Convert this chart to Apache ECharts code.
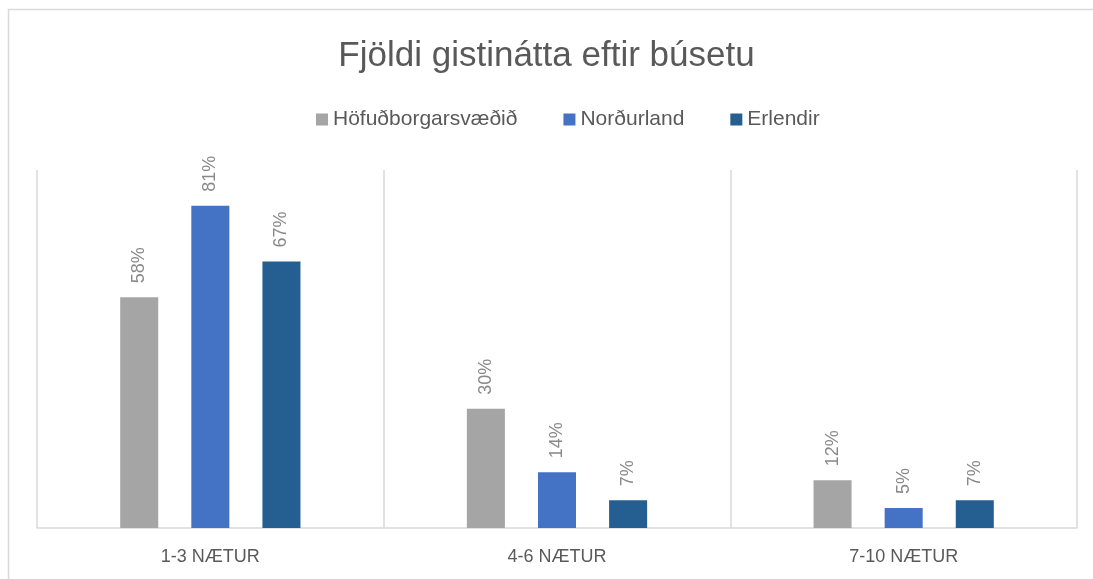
<!DOCTYPE html>
<html>
<head>
<meta charset="utf-8">
<script src="https://cdn.jsdelivr.net/npm/echarts@6/dist/echarts.min.js"></script>
<style>
  html, body { margin: 0; padding: 0; background: #fff; }
  #chart { width: 1093px; height: 579px; }
</style>
</head>
<body>
<div id="chart"></div>
<script>
// flokkar og gildi (%)
var categories = ['1-3 NÆTUR', '4-6 NÆTUR', '7-10 NÆTUR']
var seriesNames = ['Höfuðborgarsvæðið', 'Norðurland', 'Erlendir']
var hofudborg = [58, 30, 12]
var nordurland = [81, 14, 5]
var erlendir = [67, 7, 7]
var colors = ['#A5A5A5', '#4472C4', '#255E91']

var font = 'Liberation Sans'

function makeSeries(name, data) {
  return {
    name: name,
    type: 'bar',
    data: data,
    barGap: '87%',
    barCategoryGap: '48%',
    label: {
      show: true,
      position: 'top',
      rotate: 90,
      align: 'left',
      verticalAlign: 'middle',
      distance: 14,
      formatter: '{c}%',
      color: '#898989',
      fontSize: 18,
      fontFamily: font
    }
  }
}

var myChart = echarts.init(document.getElementById('chart'))
var option = {
  animation: false,
  color: colors,
  textStyle: { fontFamily: font },
  title: {
    text: 'Fjöldi gistinátta eftir búsetu',
    left: 'center',
    top: 34,
    textStyle: {
      fontSize: 35,
      fontWeight: 'normal',
      color: '#595959',
      fontFamily: font
    }
  },
  legend: {
    data: seriesNames,
    top: 104,
    left: 311,
    icon: 'rect',
    itemWidth: 12,
    itemHeight: 12,
    itemGap: 46,
    itemStyle: { borderWidth: 0 },
    textStyle: { color: '#595959', fontSize: 21, fontFamily: font }
  },
  grid: {
    top: 170,
    left: 37,
    right: 16,
    bottom: 51
  },
  xAxis: {
    type: 'category',
    data: categories,
    axisTick: { show: false },
    axisLine: { lineStyle: { color: '#d9d9d9', width: 1.5 } },
    axisLabel: { color: '#595959', fontSize: 18, margin: 20, fontFamily: font },
    splitLine: { show: true, lineStyle: { color: '#d9d9d9', width: 1.5 } }
  },
  yAxis: {
    type: 'value',
    min: 0,
    max: 90,
    show: false
  },
  graphic: [{
    type: 'rect',
    shape: { x: 8.5, y: 9.5, width: 1200, height: 700 },
    style: { fill: 'none', stroke: '#d9d9d9', lineWidth: 1.5 },
    silent: true
  }],
  series: [
    makeSeries(seriesNames[0], hofudborg),
    makeSeries(seriesNames[1], nordurland),
    makeSeries(seriesNames[2], erlendir)
  ]
}
myChart.setOption(option)
</script>
</body>
</html>
